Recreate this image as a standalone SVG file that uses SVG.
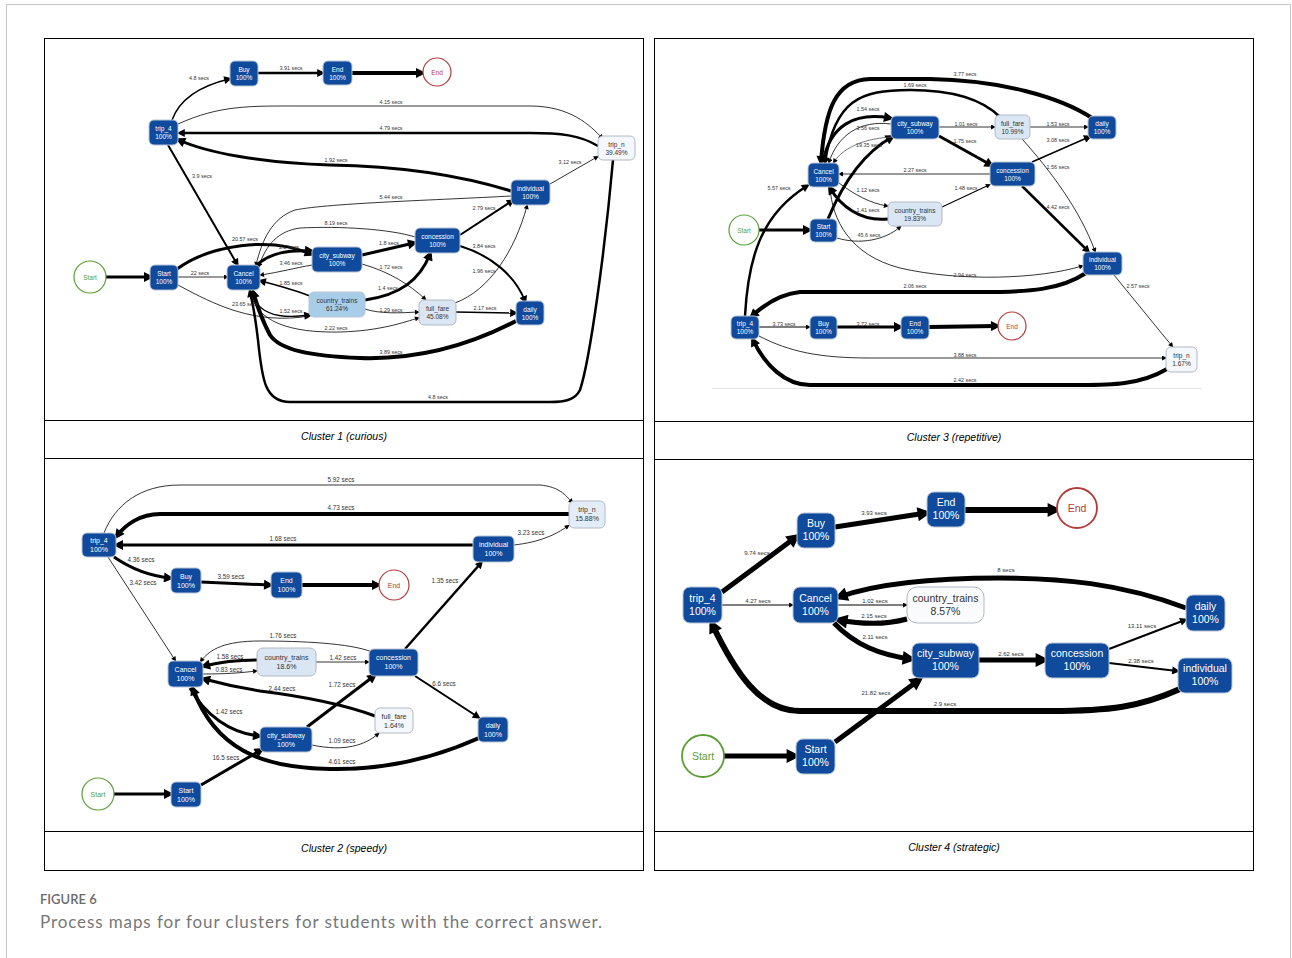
<svg xmlns="http://www.w3.org/2000/svg" width="1292" height="958" viewBox="0 0 1292 958">
<style>
.e{fill:none;stroke:#000;stroke-linecap:butt}
.g{stroke:#555}
.w08{stroke-width:0.8}.w1{stroke-width:1.1}.w15{stroke-width:1.5}.w2{stroke-width:2}.w25{stroke-width:2.5}.w3{stroke-width:3}.w4{stroke-width:4}.w5{stroke-width:5}.w6{stroke-width:6}
.as{marker-end:url(#ms)}.am{marker-end:url(#mm)}.al{marker-end:url(#ml)}.ax{marker-end:url(#mx)}
.nd{fill:#0f4a9c;stroke:#b9c3d6;stroke-width:1}
.nl{fill:#a8cde8;stroke:#b9c3d6;stroke-width:1}
.np{fill:#dae6f3;stroke:#b2b9c4;stroke-width:1}
.nw{fill:#f4f7fb;stroke:#b2b9c4;stroke-width:1}
.tw{fill:#fff;font-family:"Liberation Sans",Arial,sans-serif;text-anchor:middle}
.tk{fill:#333;font-family:"Liberation Sans",Arial,sans-serif;text-anchor:middle}
.f1{font-size:6.5px}.f2{font-size:7px}.f4{font-size:10.5px}
.el{fill:#333;font-family:"Liberation Sans",Arial,sans-serif;font-size:5.4px;text-anchor:middle}
.el2{font-size:6.3px}.el4{font-size:6px}
.cs{fill:#fff;stroke:#5c9e34;stroke-width:1.2}
.ce{fill:#fff;stroke:#b23c3c;stroke-width:1.2}
.tgs{fill:#5c9e34;font-family:"Liberation Sans",Arial,sans-serif;text-anchor:middle}
.tre{fill:#b23c3c;font-family:"Liberation Sans",Arial,sans-serif;text-anchor:middle}
.tb{fill:none;stroke:#000;stroke-width:1}
.cap{font-family:"Liberation Sans",Arial,sans-serif;font-style:italic;font-size:10.5px;fill:#000;text-anchor:middle}
</style>
<defs>
<marker id="ms" viewBox="0 0 10 10" refX="6" refY="5" markerUnits="userSpaceOnUse" markerWidth="6" markerHeight="5" orient="auto"><path d="M0,0L10,5L0,10z" fill="#000"/></marker>
<marker id="mm" viewBox="0 0 10 10" refX="6" refY="5" markerUnits="userSpaceOnUse" markerWidth="9" markerHeight="8" orient="auto"><path d="M0,0L10,5L0,10z" fill="#000"/></marker>
<marker id="ml" viewBox="0 0 10 10" refX="6" refY="5" markerUnits="userSpaceOnUse" markerWidth="11" markerHeight="10" orient="auto"><path d="M0,0L10,5L0,10z" fill="#000"/></marker>
<marker id="mx" viewBox="0 0 10 10" refX="6" refY="5" markerUnits="userSpaceOnUse" markerWidth="15" markerHeight="14" orient="auto"><path d="M0,0L10,5L0,10z" fill="#000"/></marker>
</defs>
<rect x="0" y="0" width="1292" height="958" fill="#fff"/>
<path d="M6.5,960 L6.5,4.5 L1290.5,4.5 L1290.5,960" fill="none" stroke="#c6c6c6" stroke-width="1"/>

<!-- tables -->
<g id="tables">
<rect class="tb" x="44.5" y="38.5" width="599" height="832"/>
<line class="tb" x1="44.5" y1="420.5" x2="643.5" y2="420.5"/>
<line class="tb" x1="44.5" y1="458.5" x2="643.5" y2="458.5"/>
<line class="tb" x1="44.5" y1="831.5" x2="643.5" y2="831.5"/>
<rect class="tb" x="654.5" y="38.5" width="599" height="832"/>
<line class="tb" x1="654.5" y1="421.5" x2="1253.5" y2="421.5"/>
<line class="tb" x1="654.5" y1="459.5" x2="1253.5" y2="459.5"/>
<line class="tb" x1="654.5" y1="831.5" x2="1253.5" y2="831.5"/>
<text class="cap" x="344" y="440">Cluster 1 (curious)</text>
<text class="cap" x="954" y="441">Cluster 3 (repetitive)</text>
<text class="cap" x="344" y="852">Cluster 2 (speedy)</text>
<text class="cap" x="954" y="851">Cluster 4 (strategic)</text>
</g>

<!-- ================= PANEL 1 ================= -->
<g id="p1-connectors">
<path class="e w3 al" d="M106,277 L150,277"/>
<path class="e w08 as" d="M178,277 L227,277"/>
<path class="e w3 al" d="M177,269 C210,245 270,236 311,254"/>
<path class="e w08 as" d="M178,285 C215,305 255,325 309,316"/>
<path class="e w2 am" d="M168,145 L237,264"/>
<path class="e w15 am" d="M172,120 C180,98 200,86 229,79"/>
<path class="e w25 am" d="M258,73 L322,73"/>
<path class="e w4 al" d="M352,73 L422,73"/>
<path class="e w08 as" d="M178,124 C220,105 250,106 300,106 L530,106 C570,106 590,125 602,138"/>
<path class="e w25 am" d="M598,146 C580,135 560,133 530,133 L180,133"/>
<path class="e w3 al" d="M511,191 C450,172 390,166 330,165 C260,163 205,152 179,140"/>
<path class="e w08 as" d="M550,184 L597,157"/>
<path class="e w08 as" d="M511,196 C440,200 330,203 295,210 C272,218 262,240 256,265"/>
<path class="e w08 as" d="M415,237 C390,229 340,226 300,228 C278,231 266,245 259,266"/>
<path class="e w3 al" d="M256,266 C270,252 290,250 311,251"/>
<path class="e w08 as" d="M312,265 C295,268 280,272 261,275"/>
<path class="e w15 am" d="M310,296 C295,290 280,286 261,281"/>
<path class="e w15 am" d="M250,290 C256,312 275,320 309,315"/>
<path class="e w08 as" d="M250,290 C255,322 290,333 340,332 C380,331 405,322 418,318"/>
<path class="e w4 al" d="M516,321 C470,345 420,360 360,358 C310,356 280,350 270,335 C262,320 257,305 253,292"/>
<path class="e w25 am" d="M613,160 C605,250 590,360 580,390 C575,400 565,402 550,402 L290,402 C265,402 262,380 258,340 C255,315 252,300 250,292"/>
<path class="e w3 al" d="M362,255 L414,243"/>
<path class="e w08 as" d="M362,264 C390,272 410,285 425,299"/>
<path class="e w3 al" d="M365,300 C400,295 420,280 430,254"/>
<path class="e w08 as" d="M365,309 C380,314 400,313 418,312"/>
<path class="e w2 am" d="M460,235 L512,201"/>
<path class="e w2 am" d="M460,246 C490,255 515,275 525,301"/>
<path class="e w08 as" d="M455,303 C490,290 515,250 527,206"/>
<path class="e w15 am" d="M456,312 L515,313"/>
<g class="el">
<text x="199" y="80">4.8 secs</text>
<text x="291" y="70">3.91 secs</text>
<text x="391" y="104">4.15 secs</text>
<text x="391" y="130">4.79 secs</text>
<text x="336" y="162">1.92 secs</text>
<text x="570" y="164">3.12 secs</text>
<text x="202" y="178">3.9 secs</text>
<text x="391" y="199">5.44 secs</text>
<text x="484" y="210">2.79 secs</text>
<text x="336" y="225">8.19 secs</text>
<text x="245" y="241">20.57 secs</text>
<text x="289" y="249">2.2 secs</text>
<text x="389" y="245">1.8 secs</text>
<text x="484" y="248">3.84 secs</text>
<text x="291" y="265">3.46 secs</text>
<text x="391" y="269">1.72 secs</text>
<text x="200" y="275">22 secs</text>
<text x="484" y="273">1.96 secs</text>
<text x="291" y="285">1.85 secs</text>
<text x="388" y="290">1.4 secs</text>
<text x="245" y="306">23.65 secs</text>
<text x="291" y="313">1.52 secs</text>
<text x="391" y="312">1.29 secs</text>
<text x="485" y="310">2.17 secs</text>
<text x="336" y="330">2.22 secs</text>
<text x="391" y="354">3.89 secs</text>
<text x="438" y="399">4.8 secs</text>
</g>
</g>
<g id="p1-start-circle"><circle class="cs" cx="90" cy="277" r="16"/><text class="tgs f1" x="90" y="279.5">Start</text></g>
<g id="p1-start"><rect class="nd" x="150" y="265" width="28" height="25" rx="5"/><text class="tw f1" x="164" y="276">Start</text><text class="tw f1" x="164" y="284">100%</text></g>
<g id="p1-cancel"><rect class="nd" x="227" y="265" width="33" height="25" rx="5"/><text class="tw f1" x="243.5" y="276">Cancel</text><text class="tw f1" x="243.5" y="284">100%</text></g>
<g id="p1-city-subway"><rect class="nd" x="312" y="247" width="50" height="25" rx="5"/><text class="tw f1" x="337" y="258">city_subway</text><text class="tw f1" x="337" y="266">100%</text></g>
<g id="p1-country-trains"><rect class="nl" x="309" y="292" width="56" height="25" rx="5"/><text class="tk f1" x="337" y="303">country_trains</text><text class="tk f1" x="337" y="311">61.24%</text></g>
<g id="p1-concession"><rect class="nd" x="415" y="228" width="45" height="25" rx="5"/><text class="tw f1" x="437.5" y="239">concession</text><text class="tw f1" x="437.5" y="247">100%</text></g>
<g id="p1-full-fare"><rect class="np" x="419" y="300" width="37" height="25" rx="5"/><text class="tk f1" x="437.5" y="311">full_fare</text><text class="tk f1" x="437.5" y="319">45.08%</text></g>
<g id="p1-daily"><rect class="nd" x="516" y="301" width="28" height="24" rx="5"/><text class="tw f1" x="530" y="311.5">daily</text><text class="tw f1" x="530" y="319.5">100%</text></g>
<g id="p1-individual"><rect class="nd" x="511" y="180" width="39" height="25" rx="5"/><text class="tw f1" x="530.5" y="191">individual</text><text class="tw f1" x="530.5" y="199">100%</text></g>
<g id="p1-trip-n"><rect class="nw" x="598" y="136" width="37" height="24" rx="5"/><text class="tk f1" x="616.5" y="146.5">trip_n</text><text class="tk f1" x="616.5" y="154.5">39.49%</text></g>
<g id="p1-end-node"><rect class="nd" x="323" y="61" width="29" height="24" rx="5"/><text class="tw f1" x="337.5" y="71.5">End</text><text class="tw f1" x="337.5" y="79.5">100%</text></g>
<g id="p1-end-circle"><circle class="ce" cx="437" cy="72" r="14"/><text class="tre f1" x="437" y="74.5">End</text></g>
<g id="p1-buy"><rect class="nd" x="230" y="61" width="28" height="25" rx="5"/><text class="tw f1" x="244" y="72">Buy</text><text class="tw f1" x="244" y="80">100%</text></g>
<g id="p1-trip-4"><rect class="nd" x="149" y="120" width="29" height="25" rx="5"/><text class="tw f1" x="163.5" y="131">trip_4</text><text class="tw f1" x="163.5" y="139">100%</text></g>

<!-- ================= PANEL 3 ================= -->
<line x1="712" y1="388.5" x2="1202" y2="388.5" stroke="#e4e4e4" stroke-width="1"/>
<g id="p3-connectors">
<path class="e w3 al" d="M759,230 L809,230"/>
<path class="e w3 al" d="M828,219 C840,190 860,155 892,137"/>
<path class="e w08 as" d="M837,238 C860,245 885,240 900,227"/>
<path class="e w25 am" d="M745,316 C748,260 760,215 807,186"/>
<path class="e w3 al" d="M823,162 C830,125 855,112 890,118"/>
<path class="e w08 as" d="M891,124 C860,120 838,135 829,162"/>
<path class="e w08 g as" d="M892,137 C870,138 845,145 834,162"/>
<path class="e w4 al" d="M1092,118 C1060,97 1000,80 930,79 L870,79 C835,80 825,110 821,162"/>
<path class="e w25 am" d="M1000,117 C985,102 960,90 910,90 C860,90 835,100 825,162"/>
<path class="e w08 as" d="M939,127 L994,127"/>
<path class="e w3 al" d="M939,136 L991,165"/>
<path class="e w08 as" d="M990,174 L840,174"/>
<path class="e w08 as" d="M839,183 C855,195 870,203 887,206"/>
<path class="e w3 al" d="M888,219 C860,222 840,205 830,188"/>
<path class="e w1 as" d="M942,207 L989,185"/>
<path class="e w08 as" d="M1030,127 L1087,127"/>
<path class="e w15 am" d="M1032,162 L1089,137"/>
<path class="e w08 as" d="M1022,139 C1050,170 1080,210 1095,251"/>
<path class="e w25 am" d="M1022,186 L1088,251"/>
<path class="e w08 as" d="M830,187 C832,220 850,255 900,268 C960,282 1040,279 1082,266"/>
<path class="e w4 al" d="M1086,273 C1060,290 1030,292 980,292 L800,292 C780,294 765,304 752,316"/>
<path class="e w08 as" d="M1114,275 L1172,346"/>
<path class="e w1 as" d="M759,327 L809,327"/>
<path class="e w3 al" d="M837,327 L900,327"/>
<path class="e w4 al" d="M929,327 L997,326"/>
<path class="e w08 as" d="M759,336 C790,352 820,358 870,358 L1165,358"/>
<path class="e w4 al" d="M1167,369 C1140,385 1110,385 1080,385 L810,385 C785,385 765,365 753,340"/>
<g class="el">
<text x="965" y="76">3.77 secs</text>
<text x="915" y="87">1.69 secs</text>
<text x="868" y="111">1.54 secs</text>
<text x="868" y="130">3.56 secs</text>
<text x="966" y="126">1.01 secs</text>
<text x="1058" y="126">1.53 secs</text>
<text x="965" y="143">1.75 secs</text>
<text x="869" y="147">19.35 secs</text>
<text x="1058" y="142">3.08 secs</text>
<text x="915" y="172">2.27 secs</text>
<text x="1058" y="169">1.56 secs</text>
<text x="779" y="190">5.57 secs</text>
<text x="868" y="192">1.12 secs</text>
<text x="966" y="190">1.48 secs</text>
<text x="1058" y="209">4.42 secs</text>
<text x="868" y="212">1.41 secs</text>
<text x="869" y="237">45.6 secs</text>
<text x="965" y="277">2.94 secs</text>
<text x="1138" y="288">2.57 secs</text>
<text x="915" y="288">2.06 secs</text>
<text x="784" y="326">3.73 secs</text>
<text x="868" y="326">3.72 secs</text>
<text x="965" y="357">3.88 secs</text>
<text x="965" y="382">2.42 secs</text>
</g>
</g>
<g id="p3-start-circle"><circle class="cs" cx="744" cy="230" r="15"/><text class="tgs f1" x="744" y="232.5">Start</text></g>
<g id="p3-start"><rect class="nd" x="810" y="219" width="27" height="23" rx="5"/><text class="tw f1" x="823.5" y="229">Start</text><text class="tw f1" x="823.5" y="237">100%</text></g>
<g id="p3-cancel"><rect class="nd" x="808" y="163" width="31" height="24" rx="5"/><text class="tw f1" x="823.5" y="173.5">Cancel</text><text class="tw f1" x="823.5" y="181.5">100%</text></g>
<g id="p3-city-subway"><rect class="nd" x="891" y="116" width="48" height="23" rx="5"/><text class="tw f1" x="915" y="126">city_subway</text><text class="tw f1" x="915" y="134">100%</text></g>
<g id="p3-country-trains"><rect class="np" x="888" y="202" width="54" height="24" rx="5"/><text class="tk f1" x="915" y="212.5">country_trains</text><text class="tk f1" x="915" y="220.5">19.83%</text></g>
<g id="p3-full-fare"><rect class="np" x="995" y="115" width="35" height="24" rx="5"/><text class="tk f1" x="1012.5" y="125.5">full_fare</text><text class="tk f1" x="1012.5" y="133.5">10.99%</text></g>
<g id="p3-daily"><rect class="nd" x="1088" y="116" width="28" height="23" rx="5"/><text class="tw f1" x="1102" y="126">daily</text><text class="tw f1" x="1102" y="134">100%</text></g>
<g id="p3-concession"><rect class="nd" x="990" y="162" width="45" height="24" rx="5"/><text class="tw f1" x="1012.5" y="172.5">concession</text><text class="tw f1" x="1012.5" y="180.5">100%</text></g>
<g id="p3-individual"><rect class="nd" x="1083" y="252" width="39" height="23" rx="5"/><text class="tw f1" x="1102.5" y="262">individual</text><text class="tw f1" x="1102.5" y="270">100%</text></g>
<g id="p3-trip-4"><rect class="nd" x="731" y="316" width="28" height="23" rx="5"/><text class="tw f1" x="745" y="326">trip_4</text><text class="tw f1" x="745" y="334">100%</text></g>
<g id="p3-buy"><rect class="nd" x="810" y="316" width="27" height="23" rx="5"/><text class="tw f1" x="823.5" y="326">Buy</text><text class="tw f1" x="823.5" y="334">100%</text></g>
<g id="p3-end-node"><rect class="nd" x="901" y="316" width="28" height="23" rx="5"/><text class="tw f1" x="915" y="326">End</text><text class="tw f1" x="915" y="334">100%</text></g>
<g id="p3-end-circle"><circle class="ce" cx="1012" cy="326" r="14"/><text class="tre f1" x="1012" y="328.5">End</text></g>
<g id="p3-trip-n"><rect class="nw" x="1166" y="347" width="31" height="25" rx="5"/><text class="tk f1" x="1181.5" y="358">trip_n</text><text class="tk f1" x="1181.5" y="366">1.67%</text></g>

<!-- ================= PANEL 2 ================= -->
<g id="p2-connectors">
<path class="e w3 al" d="M114,794 L170,794"/>
<path class="e w3 al" d="M201,785 L261,750"/>
<path class="e w08 as" d="M104,533 C115,505 140,485 180,485 L540,485 C560,487 565,495 572,502"/>
<path class="e w4 al" d="M569,514 L160,514 C140,514 125,525 117,536"/>
<path class="e w3 al" d="M473,545 L117,545"/>
<path class="e w08 as" d="M514,545 C540,542 555,535 568,526"/>
<path class="e w3 al" d="M114,557 C130,568 150,576 170,578"/>
<path class="e w08 as" d="M108,557 L175,660"/>
<path class="e w3 al" d="M201,582 L270,585"/>
<path class="e w4 al" d="M302,585 L378,585"/>
<path class="e w08 as" d="M372,652 C350,643 300,641 260,641 C225,641 210,649 201,661"/>
<path class="e w3 al" d="M257,660 C240,660 220,662 204,666"/>
<path class="e w08 as" d="M203,674 C225,674 240,673 256,671"/>
<path class="e w3 al" d="M375,716 C340,703 300,696 260,691 C235,687 215,682 204,679"/>
<path class="e w08 as" d="M316,662 L368,662"/>
<path class="e w3 al" d="M307,727 L374,676"/>
<path class="e w3 al" d="M190,688 C205,715 230,733 259,736"/>
<path class="e w08 as" d="M312,745 C345,752 365,745 378,734"/>
<path class="e w4 al" d="M479,738 C430,760 380,770 330,769 C260,768 215,748 193,689"/>
<path class="e w25 am" d="M405,649 L481,563"/>
<path class="e w2 am" d="M415,676 L478,717"/>
<g class="el el2">
<text x="341" y="482">5.92 secs</text>
<text x="341" y="510">4.73 secs</text>
<text x="531" y="535">3.23 secs</text>
<text x="283" y="541">1.68 secs</text>
<text x="141" y="562">4.36 secs</text>
<text x="143" y="585">3.42 secs</text>
<text x="231" y="579">3.59 secs</text>
<text x="445" y="583">1.35 secs</text>
<text x="283" y="638">1.76 secs</text>
<text x="230" y="659">1.58 secs</text>
<text x="343" y="660">1.42 secs</text>
<text x="229" y="672">0.83 secs</text>
<text x="444" y="686">6.6 secs</text>
<text x="342" y="687">1.72 secs</text>
<text x="282" y="691">2.44 secs</text>
<text x="229" y="714">1.42 secs</text>
<text x="342" y="743">1.09 secs</text>
<text x="226" y="760">16.5 secs</text>
<text x="342" y="764">4.61 secs</text>
</g>
</g>
<g id="p2-trip-4"><rect class="nd" x="82" y="533" width="34" height="24" rx="5"/><text class="tw f2" x="99" y="543">trip_4</text><text class="tw f2" x="99" y="552">100%</text></g>
<g id="p2-buy"><rect class="nd" x="171" y="568" width="30" height="25" rx="5"/><text class="tw f2" x="186" y="578.5">Buy</text><text class="tw f2" x="186" y="587.5">100%</text></g>
<g id="p2-end-node"><rect class="nd" x="271" y="572" width="31" height="26" rx="5"/><text class="tw f2" x="286.5" y="583">End</text><text class="tw f2" x="286.5" y="592">100%</text></g>
<g id="p2-end-circle"><circle class="ce" cx="394" cy="585" r="15"/><text class="tre f2" x="394" y="587.5">End</text></g>
<g id="p2-cancel"><rect class="nd" x="168" y="661" width="35" height="26" rx="5"/><text class="tw f2" x="185.5" y="672">Cancel</text><text class="tw f2" x="185.5" y="681">100%</text></g>
<g id="p2-country-trains"><rect class="np" x="257" y="648" width="59" height="28" rx="6"/><text class="tk f2" x="286.5" y="660">country_trains</text><text class="tk f2" x="286.5" y="669">18.6%</text></g>
<g id="p2-city-subway"><rect class="nd" x="260" y="727" width="52" height="25" rx="5"/><text class="tw f2" x="286" y="737.5">city_subway</text><text class="tw f2" x="286" y="746.5">100%</text></g>
<g id="p2-start-circle"><circle class="cs" cx="98" cy="794" r="16"/><text class="tgs f2" x="98" y="796.5">Start</text></g>
<g id="p2-start"><rect class="nd" x="171" y="782" width="30" height="25" rx="5"/><text class="tw f2" x="186" y="792.5">Start</text><text class="tw f2" x="186" y="801.5">100%</text></g>
<g id="p2-concession"><rect class="nd" x="369" y="649" width="49" height="27" rx="5"/><text class="tw f2" x="393.5" y="660">concession</text><text class="tw f2" x="393.5" y="669">100%</text></g>
<g id="p2-full-fare"><rect class="nw" x="375" y="708" width="38" height="25" rx="5"/><text class="tk f2" x="394" y="718.5">full_fare</text><text class="tk f2" x="394" y="727.5">1.64%</text></g>
<g id="p2-daily"><rect class="nd" x="478" y="717" width="30" height="25" rx="5"/><text class="tw f2" x="493" y="727.5">daily</text><text class="tw f2" x="493" y="736.5">100%</text></g>
<g id="p2-individual"><rect class="nd" x="473" y="536" width="41" height="26" rx="5"/><text class="tw f2" x="493.5" y="547">individual</text><text class="tw f2" x="493.5" y="556">100%</text></g>
<g id="p2-trip-n"><rect class="np" x="569" y="501" width="36" height="27" rx="5" style="fill:#e3edf7"/><text class="tk f2" x="587" y="512">trip_n</text><text class="tk f2" x="587" y="521">15.88%</text></g>

<!-- ================= PANEL 4 ================= -->
<g id="p4-connectors">
<path class="e w5 ax" d="M724,756 L795,756"/>
<path class="e w5 ax" d="M835,742 L919,680"/>
<path class="e w5 ax" d="M722,592 L796,537"/>
<path class="e w5 ax" d="M835,527 L926,513"/>
<path class="e w6 ax" d="M965,510 L1056,510"/>
<path class="e w1 as" d="M722,605 L792,605"/>
<path class="e w1 as" d="M838,605 L906,605"/>
<path class="e w5 ax" d="M907,619 C885,625 860,624 839,620"/>
<path class="e w5 ax" d="M834,623 C855,645 880,655 911,659"/>
<path class="e w5 ax" d="M979,660 L1044,660"/>
<path class="e w2 am" d="M1109,649 L1185,620"/>
<path class="e w2 am" d="M1109,663 L1177,671"/>
<path class="e w5 ax" d="M1186,608 C1120,583 1060,578 1000,578 C920,578 870,586 839,597"/>
<path class="e w6 ax" d="M1180,689 C1140,707 1110,711 1050,711 L800,711 C760,711 735,672 712,624"/>
<g class="el el4">
<text x="874" y="515">3.93 secs</text>
<text x="757" y="555">9.74 secs</text>
<text x="1006" y="572">8 secs</text>
<text x="758" y="603">4.27 secs</text>
<text x="875" y="603">1.02 secs</text>
<text x="874" y="618">2.15 secs</text>
<text x="875" y="639">2.11 secs</text>
<text x="1142" y="628">13.11 secs</text>
<text x="1011" y="656">2.62 secs</text>
<text x="1141" y="663">2.38 secs</text>
<text x="876" y="695">21.82 secs</text>
<text x="945" y="706">2.9 secs</text>
</g>
</g>
<g id="p4-trip-4"><rect class="nd" x="683" y="587" width="39" height="36" rx="7"/><text class="tw f4" x="702.5" y="601.5">trip_4</text><text class="tw f4" x="702.5" y="614.5">100%</text></g>
<g id="p4-buy"><rect class="nd" x="797" y="513" width="38" height="35" rx="7"/><text class="tw f4" x="816" y="527">Buy</text><text class="tw f4" x="816" y="540">100%</text></g>
<g id="p4-end-node"><rect class="nd" x="927" y="492" width="38" height="35" rx="7"/><text class="tw f4" x="946" y="506">End</text><text class="tw f4" x="946" y="519">100%</text></g>
<g id="p4-end-circle"><circle class="ce" cx="1077" cy="508" r="20" style="stroke-width:1.8"/><text class="tre f4" x="1077" y="512">End</text></g>
<g id="p4-cancel"><rect class="nd" x="793" y="587" width="45" height="36" rx="7"/><text class="tw f4" x="815.5" y="601.5">Cancel</text><text class="tw f4" x="815.5" y="614.5">100%</text></g>
<g id="p4-country-trains"><rect class="nw" x="907" y="587" width="77" height="36" rx="10" style="fill:#fafbfd"/><text class="tk f4" x="945.5" y="601.5">country_trains</text><text class="tk f4" x="945.5" y="614.5">8.57%</text></g>
<g id="p4-city-subway"><rect class="nd" x="912" y="643" width="67" height="35" rx="7"/><text class="tw f4" x="945.5" y="657">city_subway</text><text class="tw f4" x="945.5" y="670">100%</text></g>
<g id="p4-concession"><rect class="nd" x="1045" y="643" width="64" height="35" rx="7"/><text class="tw f4" x="1077" y="657">concession</text><text class="tw f4" x="1077" y="670">100%</text></g>
<g id="p4-daily"><rect class="nd" x="1186" y="595" width="39" height="36" rx="7"/><text class="tw f4" x="1205.5" y="609.5">daily</text><text class="tw f4" x="1205.5" y="622.5">100%</text></g>
<g id="p4-individual"><rect class="nd" x="1178" y="658" width="54" height="35" rx="7"/><text class="tw f4" x="1205" y="672">individual</text><text class="tw f4" x="1205" y="685">100%</text></g>
<g id="p4-start-circle"><circle class="cs" cx="703" cy="756" r="21" style="stroke-width:1.8"/><text class="tgs f4" x="703" y="760">Start</text></g>
<g id="p4-start"><rect class="nd" x="796" y="739" width="39" height="35" rx="7"/><text class="tw f4" x="815.5" y="753">Start</text><text class="tw f4" x="815.5" y="766">100%</text></g>

<!-- caption -->
<text x="40" y="904" style="font-family:Lato,'Open Sans',sans-serif;font-size:13px;font-weight:600;fill:#6a6a6a">FIGURE 6</text>
<text x="40" y="928" textLength="562" style="font-family:Lato,'Open Sans',sans-serif;font-size:17px;fill:#777">Process maps for four clusters for students with the correct answer.</text>
</svg>
